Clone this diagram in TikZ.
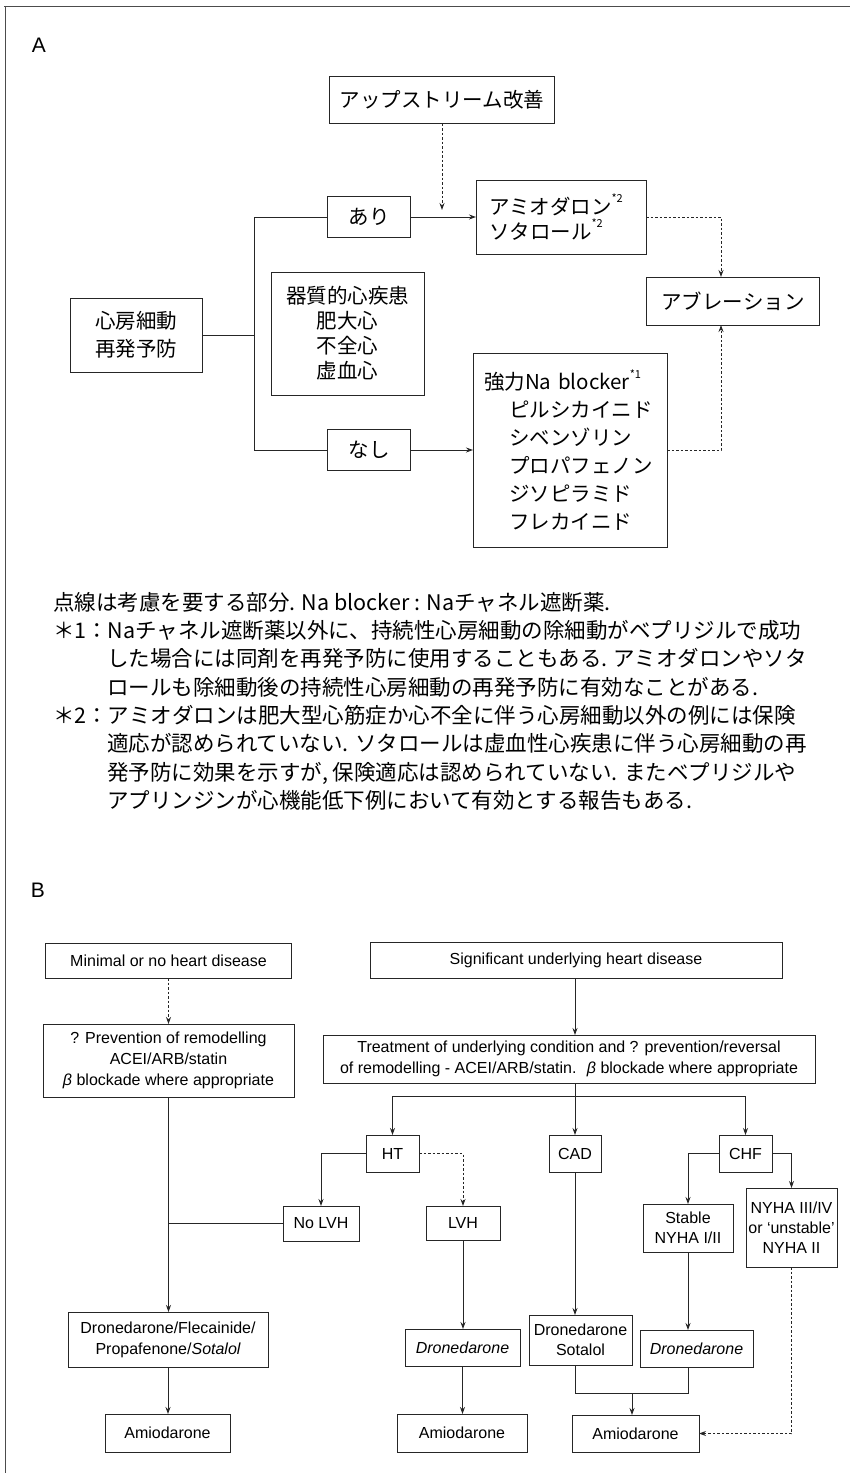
\documentclass[tikz,border=0pt]{standalone}
\usepackage{fontspec}
\setmainfont{Liberation Sans}
\newfontfamily\jp{Noto Sans CJK JP}
\usetikzlibrary{arrows.meta}
\newcommand\supmark[1]{\raisebox{0.55em}{\fontsize{11}{11}\selectfont #1}}
\begin{document}
\begin{tikzpicture}[x=1pt,y=-1pt,
  every node/.style={inner sep=0pt, outer sep=0pt},
  box/.style={draw=black!85, line width=0.9pt, align=center},
  jbox/.style={box, font=\jp\fontsize{20.5}{25}\selectfont},
  ebox/.style={box, font=\fontsize{16}{21}\selectfont},
  conn/.style={draw=black!85, line width=0.9pt},
  arr/.style={conn, -{Stealth[length=7pt,width=5pt]}},
  dots/.style={dash pattern=on 2.5pt off 2pt},
  notetext/.style={anchor=base west, font=\jp\fontsize{21.5}{28}\selectfont},
  lbl/.style={font=\fontsize{21}{21}\selectfont},
]
\useasboundingbox (0,0) rectangle (850,1473);
% frame
\draw[black!70, line width=0.8pt] (4,6) -- (850,6);
\draw[black!70, line width=0.8pt] (5,6) -- (5,1473);

% ===== Part A =====
\node[lbl] (labA) at (39,45) {A};
\node[jbox, minimum width=225pt, minimum height=47pt] (up) at (442,100) {アップストリーム改善};
\node[jbox, minimum width=83pt, minimum height=41pt] (ari) at (369,217) {あり};
\node[jbox, minimum width=170pt, minimum height=74pt, text width=144pt, align=left] (amio) at (561,217)
  {アミオダロン\supmark{*2}\\ソタロール\supmark{*2}};
\node[jbox, minimum width=173pt, minimum height=48pt] (abl) at (733,301) {アブレーション};
\node[jbox, minimum width=132pt, minimum height=74pt, font=\jp\fontsize{20.5}{28}\selectfont] (af) at (136,335) {心房細動\\再発予防};
\node[jbox, minimum width=153pt, minimum height=123pt] (kis) at (347.5,333.5) {器質的心疾患\\肥大心\\不全心\\虚血心};
\node[jbox, minimum width=83pt, minimum height=41pt] (nashi) at (369,450) {なし};
\node[jbox, minimum width=194pt, minimum height=194pt, text width=172pt, align=left, font=\jp\fontsize{20.5}{28}\selectfont] (na) at (570,450)
  {強力Na blocker\supmark{*1}\\
   \hspace*{25pt}ピルシカイニド\\
   \hspace*{25pt}シベンゾリン\\
   \hspace*{25pt}プロパフェノン\\
   \hspace*{25pt}ジソピラミド\\
   \hspace*{25pt}フレカイニド};
\coordinate (jv) at (254,0);
\coordinate (upend) at (442,210);
\draw[conn] (af.east) -- (af.east -| jv);
\draw[conn] (ari.west) -- (ari.west -| jv) |- (nashi.west);
\draw[arr] (ari.east) -- (amio.west);
\draw[arr] (nashi.east) -- (na.west);
\draw[arr, dots] (up.south) -- (upend);
\draw[arr, dots] (amio.east) -| ([xshift=-12pt]abl.north);
\draw[arr, dots] (na.east) -| ([xshift=-12pt]abl.south);

% notes
\node[notetext] (n1) at (53,610) {点線は考慮を要する部分. Na blocker : Naチャネル遮断薬.};
\node[notetext] (n2) at (53,638) {＊1：Naチャネル遮断薬以外に、持続性心房細動の除細動がベプリジルで成功};
\node[notetext] (n3) at (107,666) {した場合には同剤を再発予防に使用することもある. アミオダロンやソタ};
\node[notetext] (n4) at (107,695) {ロールも除細動後の持続性心房細動の再発予防に有効なことがある.};
\node[notetext] (n5) at (53,723) {＊2：アミオダロンは肥大型心筋症か心不全に伴う心房細動以外の例には保険};
\node[notetext] (n6) at (107,751) {適応が認められていない. ソタロールは虚血性心疾患に伴う心房細動の再};
\node[notetext] (n7) at (107,780) {発予防に効果を示すが, 保険適応は認められていない. またベプリジルや};
\node[notetext] (n8) at (107,808) {アプリンジンが心機能低下例において有効とする報告もある.};

% ===== Part B =====
\node[lbl] (labB) at (38,890) {B};
\node[ebox, minimum width=246pt, minimum height=35pt] (mini) at (168.5,960.5) {Minimal or no heart disease};
\node[ebox, minimum width=251pt, minimum height=73pt] (prev) at (168.5,1060.5)
  {? Prevention of remodelling\\ACEI/ARB/statin\\{\itshape β} blockade where appropriate};
\node[ebox, minimum width=412pt, minimum height=36pt] (sig) at (576,960) {Significant underlying heart disease};
\node[ebox, minimum width=492pt, minimum height=48pt] (treat) at (569,1059)
  {Treatment of underlying condition and ? prevention/reversal\\of remodelling - ACEI/ARB/statin. \ {\itshape β} blockade where appropriate};
\node[ebox, minimum width=53pt, minimum height=37pt] (HT) at (392.5,1153.5) {HT};
\node[ebox, minimum width=52pt, minimum height=37pt] (CAD) at (575,1153.5) {CAD};
\node[ebox, minimum width=53pt, minimum height=37pt] (CHF) at (745.5,1153.5) {CHF};
\node[ebox, minimum width=76pt, minimum height=35pt] (noLVH) at (321,1223.5) {No LVH};
\node[ebox, minimum width=74pt, minimum height=34pt] (LVH) at (463,1223) {LVH};
\node[ebox, minimum width=90pt, minimum height=48pt, font=\fontsize{16}{20}\selectfont] (stable) at (688,1228) {Stable\\NYHA I/II};
\node[ebox, minimum width=91pt, minimum height=79pt, font=\fontsize{16}{20}\selectfont] (nyha) at (791.5,1227.5) {NYHA III/IV\\or ‘unstable’\\NYHA II};
\node[ebox, minimum width=200pt, minimum height=55pt] (dfl) at (168,1339.5) {Dronedarone/Flecainide/\\Propafenone/{\itshape Sotalol}};
\node[ebox, minimum width=115pt, minimum height=37pt] (dr1) at (462.5,1347.5) {{\itshape Dronedarone}};
\node[ebox, minimum width=103pt, minimum height=50pt, font=\fontsize{16}{20}\selectfont] (ds) at (580.5,1340) {Dronedarone\\Sotalol};
\node[ebox, minimum width=113pt, minimum height=37pt] (dr3) at (696.5,1348.5) {{\itshape Dronedarone}};
\node[ebox, minimum width=125pt, minimum height=38pt] (amL) at (167.5,1433) {Amiodarone};
\node[ebox, minimum width=130pt, minimum height=38pt] (am2) at (462,1433) {Amiodarone};
\node[ebox, minimum width=127pt, minimum height=37pt] (am3) at (635.5,1433.5) {Amiodarone};

\coordinate (br) at (575,1096);
\coordinate (mg) at (632,1393);
\draw[arr, dots] (mini.south) -- (mini.south |- prev.north);
\draw[arr] (sig.south -| CAD.north) -- (CAD.north |- treat.north);
\draw[conn] (CAD.north |- treat.south) -- (br);
\draw[conn] (HT.north |- br) -- (CHF.north |- br);
\draw[arr] (HT.north |- br) -- (HT.north);
\draw[arr] (br) -- (CAD.north);
\draw[arr] (CHF.north |- br) -- (CHF.north);
\draw[arr] (HT.west) -| (noLVH.north);
\draw[conn] (noLVH.west) -- (noLVH.west -| prev.south);
\draw[arr] (prev.south) -- (prev.south |- dfl.north);
\draw[arr] (dfl.south) -- (dfl.south |- amL.north);
\draw[arr, dots] (HT.east) -| (LVH.north);
\draw[arr] (LVH.south) -- (LVH.south |- dr1.north);
\draw[arr] (dr1.south) -- (dr1.south |- am2.north);
\draw[arr] (CAD.south) -- (CAD.south |- ds.north);
\draw[arr] (CHF.west) -| (stable.north);
\draw[arr] (stable.south) -- (stable.south |- dr3.north);
\draw[arr] (CHF.east) -| (nyha.north);
\draw[arr, dots] (nyha.south) |- (am3.east);
\draw[conn] (CAD.south |- ds.south) |- (mg) -| (stable.south |- dr3.south);
\draw[arr] (mg) -- (mg |- am3.north);
\end{tikzpicture}
\end{document}
